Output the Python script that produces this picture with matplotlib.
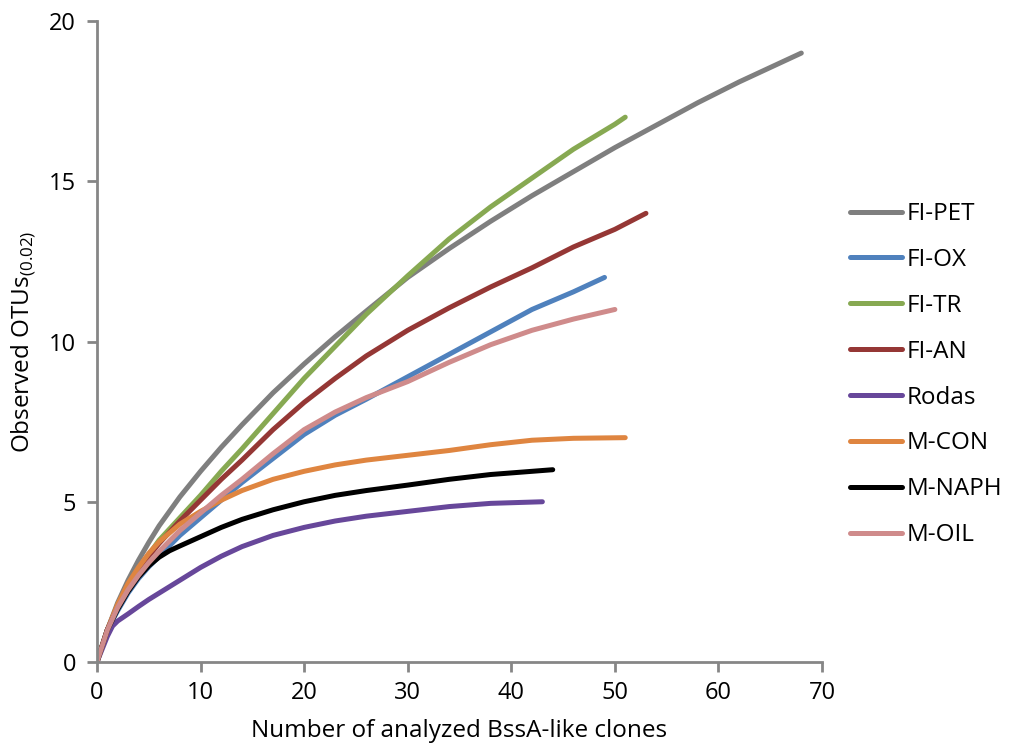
import matplotlib.pyplot as plt

plt.rcParams['font.family'] = ['Open Sans', 'DejaVu Sans']

# rarefaction curves, values
pet_x = [0, 1, 2, 3, 4, 5, 6, 8, 10, 12, 14, 17, 20, 23, 26, 30, 34, 38, 42, 46, 50, 54, 58, 62, 65, 68]
pet_y = [0, 1, 1.85, 2.55, 3.17, 3.73, 4.25, 5.15, 5.95, 6.7, 7.4, 8.4, 9.3, 10.15, 10.95, 12.0,
         12.9, 13.75, 14.55, 15.3, 16.05, 16.75, 17.45, 18.1, 18.55, 19.0]

ox_x = [0, 1, 2, 3, 4, 5, 6, 8, 10, 12, 14, 17, 20, 23, 26, 30, 34, 38, 42, 46, 49]
ox_y = [0, 1, 1.6, 2.15, 2.6, 2.97, 3.3, 3.95, 4.5, 5.05, 5.6, 6.35, 7.1, 7.7, 8.2, 8.9,
        9.6, 10.3, 11.0, 11.55, 12.0]

tr_x = [0, 1, 2, 3, 4, 5, 6, 8, 10, 12, 14, 17, 20, 23, 26, 30, 34, 38, 42, 46, 50, 51]
tr_y = [0, 1, 1.75, 2.35, 2.9, 3.35, 3.8, 4.5, 5.2, 5.95, 6.65, 7.75, 8.85, 9.85, 10.85, 12.05,
        13.2, 14.2, 15.1, 16.0, 16.78, 17.0]

an_x = [0, 1, 2, 3, 4, 5, 6, 8, 10, 12, 14, 17, 20, 23, 26, 30, 34, 38, 42, 46, 50, 53]
an_y = [0, 1, 1.75, 2.35, 2.85, 3.3, 3.7, 4.4, 5.05, 5.7, 6.3, 7.25, 8.1, 8.85, 9.55, 10.35,
        11.05, 11.7, 12.3, 12.95, 13.5, 14.0]

rodas_x = [0, 1, 1.5, 2, 3, 4, 5, 6, 8, 10, 12, 14, 17, 20, 23, 26, 30, 34, 38, 43]
rodas_y = [0, 0.8, 1.12, 1.28, 1.5, 1.73, 1.95, 2.15, 2.55, 2.95, 3.3, 3.6, 3.95, 4.2, 4.4, 4.55,
           4.7, 4.85, 4.95, 5.0]

con_x = [0, 1, 2, 3, 4, 5, 6, 8, 10, 12, 14, 17, 20, 23, 26, 30, 34, 38, 42, 46, 51]
con_y = [0, 1, 1.8, 2.45, 2.95, 3.39, 3.75, 4.3, 4.7, 5.05, 5.35, 5.7, 5.95, 6.15, 6.3, 6.45,
         6.6, 6.78, 6.92, 6.98, 7.0]

naph_x = [0, 1, 2, 3, 4, 5, 6, 7, 8, 10, 12, 14, 17, 20, 23, 26, 30, 34, 38, 42, 44]
naph_y = [0, 1, 1.65, 2.2, 2.65, 3.0, 3.27, 3.47, 3.62, 3.91, 4.2, 4.45, 4.75, 5.0, 5.2, 5.35,
          5.52, 5.7, 5.85, 5.95, 6.0]

oil_x = [0, 1, 2, 3, 4, 5, 6, 8, 10, 12, 14, 17, 20, 23, 26, 30, 34, 38, 42, 46, 50]
oil_y = [0, 1, 1.7, 2.25, 2.7, 3.1, 3.45, 4.1, 4.65, 5.2, 5.7, 6.5, 7.25, 7.8, 8.25, 8.75,
         9.35, 9.9, 10.35, 10.7, 11.0]

series = [
    ("FI-PET", pet_x, pet_y, "#7f7f7f"),
    ("FI-OX", ox_x, ox_y, "#4f81bd"),
    ("FI-TR", tr_x, tr_y, "#87a952"),
    ("FI-AN", an_x, an_y, "#953735"),
    ("Rodas", rodas_x, rodas_y, "#67479a"),
    ("M-CON", con_x, con_y, "#df8540"),
    ("M-NAPH", naph_x, naph_y, "#000000"),
    ("M-OIL", oil_x, oil_y, "#cf8b8b"),
]

fig = plt.figure(figsize=(10.09, 7.51), dpi=100)
ax = fig.add_axes([0.0961, 0.1185, 0.7186, 0.8535])

for name, xs, ys, c in series:
    ax.plot(xs, ys, color=c, lw=3.6, label=name, solid_capstyle='round',
            solid_joinstyle='round')

ax.set_xlim(0, 70)
ax.set_ylim(0, 20)
ax.set_xticks(range(0, 71, 10))
ax.set_yticks(range(0, 21, 5))

for s in ["top", "right"]:
    ax.spines[s].set_visible(False)
for s in ["left", "bottom"]:
    ax.spines[s].set_color("#868686")
    ax.spines[s].set_linewidth(2)

ax.tick_params(axis="both", colors="#868686", width=2, length=7, labelsize=17,
               labelcolor="black")
ax.tick_params(axis="x", pad=7)
ax.tick_params(axis="y", pad=8)

ax.set_xlabel("Number of analyzed BssA-like clones", fontsize=17.5, labelpad=10)
ax.set_ylabel(r"Observed OTUs$_{\mathregular{(0.02)}}$", fontsize=17.5, labelpad=8)

fig.legend(loc="upper left", bbox_to_anchor=(0.8206, 0.76), frameon=False,
           fontsize=17.5, handlelength=2.15, handletextpad=0.2, labelspacing=0.9)

plt.savefig("out.png", dpi=100)
